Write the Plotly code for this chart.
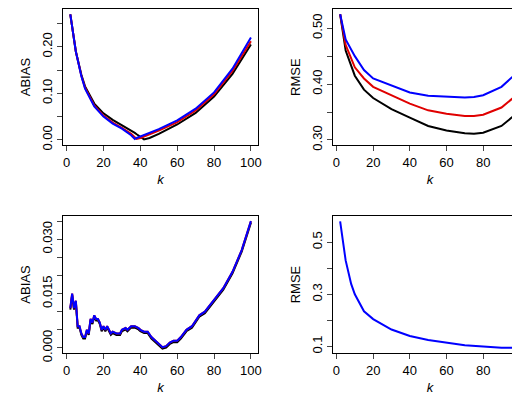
import plotly.graph_objects as go

# Panel 1: ABIAS (top-left)
k1 = [2,5,8,10,15,20,25,30,35,37,38,40,42,45,50,60,70,80,90,100]
ab_black = [0.27,0.19,0.14,0.115,0.078,0.057,0.043,0.032,0.02,0.015,0.012,0.007,0.001,0.004,0.013,0.033,0.058,0.093,0.142,0.205]
ab_red   = [0.27,0.19,0.138,0.112,0.074,0.052,0.037,0.026,0.013,0.006,0.002,0.004,0.007,0.011,0.02,0.038,0.063,0.098,0.148,0.212]
ab_blue  = [0.27,0.19,0.137,0.11,0.072,0.05,0.035,0.024,0.01,0.002,0.004,0.007,0.01,0.014,0.023,0.042,0.067,0.102,0.153,0.22]

# Panel 2: RMSE (top-right)
k2 = [2,5,10,15,20,30,40,50,60,70,75,80,90,100]
rm_blue  = [0.525,0.48,0.45,0.425,0.41,0.397,0.385,0.379,0.377,0.376,0.377,0.38,0.395,0.425]
rm_red   = [0.525,0.47,0.43,0.41,0.395,0.38,0.365,0.353,0.347,0.343,0.343,0.345,0.358,0.385]
rm_black = [0.525,0.46,0.415,0.39,0.375,0.355,0.34,0.325,0.317,0.312,0.311,0.313,0.325,0.352]

# Panel 3: ABIAS (bottom-left)
k3 = [2,3,4,5,6,7,8,9,10,11,12,13,14,15,16,17,18,19,20,21,22,24,25,27,29,30,32,33,35,37,39,40,42,44,46,48,50,52,54,56,58,60,62,65,68,70,72,75,78,80,85,90,95,100]
ab3_blue = [0.011,0.015,0.011,0.013,0.006,0.006,0.004,0.003,0.003,0.005,0.004,0.008,0.007,0.009,0.008,0.008,0.007,0.005,0.006,0.005,0.006,0.004,0.0045,0.004,0.004,0.005,0.0055,0.005,0.006,0.006,0.0055,0.005,0.0045,0.0045,0.003,0.002,0.001,0.0002,0.0005,0.0015,0.002,0.002,0.003,0.005,0.006,0.0075,0.009,0.010,0.012,0.0135,0.0165,0.021,0.027,0.035]
ab3_red = list(ab3_blue)
ab3_black = [v - 0.0004 for v in ab3_blue]

# Panel 4: RMSE (bottom-right)
k4 = [2,5,8,10,15,20,30,40,50,60,70,80,90,100]
rm4_blue = [0.58,0.43,0.34,0.30,0.235,0.205,0.165,0.14,0.125,0.115,0.105,0.10,0.095,0.095]

fig = go.Figure()
def add(x, y, col, ax):
    fig.add_trace(go.Scatter(x=x, y=y, mode="lines", line=dict(color=col, width=2),
                             xaxis="x"+ax, yaxis="y"+ax, showlegend=False))

for y, c in [(ab_black,"black"),(ab_red,"#e00000"),(ab_blue,"#0000ff")]: add(k1, y, c, "")
for y, c in [(rm_black,"black"),(rm_red,"#e00000"),(rm_blue,"#0000ff")]: add(k2, y, c, "2")
for y, c in [(ab3_black,"black"),(ab3_red,"#e00000"),(ab3_blue,"#0000ff")]: add(k3, y, c, "3")
add(k4, rm4_blue, "#0000ff", "4")

font = dict(family="Liberation Sans, Arial", size=13, color="black")
def xax(dom, anchor):
    return dict(domain=dom, anchor=anchor, range=[-1.9,103.9], tickvals=[0,20,40,60,80,100],
                ticks="outside", ticklen=5, showgrid=False, zeroline=False, showline=True,
                linecolor="black", mirror=True, tickfont=font, automargin=False,
                title=dict(text="<i>k</i>", font=font, standoff=6))
def yax(dom, anchor, rng, vals, texts, title):
    return dict(domain=dom, anchor=anchor, range=rng, tickvals=vals, ticktext=texts,
                ticks="outside", ticklen=5, showgrid=False, zeroline=False, showline=True,
                linecolor="black", mirror=True, tickfont=font, tickangle=-90, automargin=False,
                title=dict(text=title, font=font, standoff=6))

xl, xr = [0.106,0.481], [0.625,0.998]
yt, yb = [0.661,0.997], [0.146,0.485]
fig.update_layout(
    width=520, height=404, margin=dict(l=0,r=0,t=0,b=0),
    plot_bgcolor="white", paper_bgcolor="white",
    xaxis=xax(xl,"y"), yaxis=yax(yt,"x",[-0.011,0.281],
        [0,0.05,0.1,0.15,0.2,0.25],["0.00","","0.10","","0.20",""],"ABIAS"),
    xaxis2=xax(xr,"y2"), yaxis2=yax(yt,"x2",[0.291,0.534],
        [0.30,0.35,0.40,0.45,0.50],["0.30","","0.40","","0.50"],"RMSE"),
    xaxis3=xax(xl,"y3"), yaxis3=yax(yb,"x3",[-0.0014,0.0364],
        [0,0.005,0.01,0.015,0.02,0.025,0.03,0.035],["0.000","","","0.015","","","0.030",""],"ABIAS"),
    xaxis4=xax(xr,"y4"), yaxis4=yax(yb,"x4",[0.075,0.60],
        [0.1,0.2,0.3,0.4,0.5],["0.1","","0.3","","0.5"],"RMSE"),
)
fig.write_html("out.html")
